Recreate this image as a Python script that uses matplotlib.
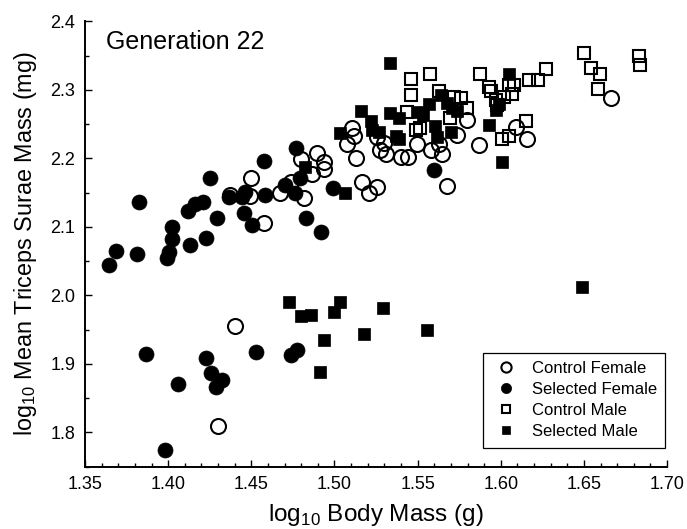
import matplotlib
matplotlib.use("Agg")
import matplotlib.pyplot as plt
from matplotlib.ticker import MultipleLocator, FormatStrFormatter

plt.rcParams['font.family'] = ['Liberation Sans', 'DejaVu Sans']
plt.rcParams['mathtext.fontset'] = 'custom'
plt.rcParams['mathtext.rm'] = 'Liberation Sans'

# ---- data ----
cf_x = [1.440, 1.430, 1.437, 1.4498, 1.4494, 1.4574, 1.467, 1.474, 1.4815, 1.480,
        1.4865, 1.4896, 1.4936, 1.4940,
        1.5107, 1.5116, 1.5077, 1.5127, 1.5257, 1.5297, 1.5273, 1.5307, 1.5398,
        1.5442, 1.5494, 1.5578, 1.5649, 1.5628, 1.5678, 1.5739, 1.5799, 1.5869,
        1.5163, 1.5253, 1.5207, 1.609, 1.616, 1.6663]
cf_y = [1.955, 1.810, 2.146, 2.171, 2.145, 2.106, 2.149, 2.165, 2.143, 2.199,
        2.177, 2.208, 2.195, 2.185,
        2.244, 2.233, 2.221, 2.200, 2.231, 2.222, 2.212, 2.207, 2.202,
        2.202, 2.221, 2.212, 2.207, 2.221, 2.160, 2.234, 2.256, 2.220,
        2.166, 2.158, 2.149, 2.246, 2.228, 2.289]

sf_x = [1.3645, 1.3687, 1.3811, 1.3827, 1.3995, 1.4005, 1.4022, 1.4026, 1.413, 1.4119,
        1.4163, 1.4209, 1.4227, 1.4249, 1.4293, 1.4364, 1.4454, 1.4444, 1.446, 1.4502,
        1.458, 1.4574, 1.4705, 1.4765, 1.479, 1.477, 1.4831, 1.4922, 1.499, 1.5598,
        1.3867, 1.406, 1.4225, 1.4257, 1.429, 1.4323, 1.4528, 1.474, 1.4775, 1.398]
sf_y = [2.044, 2.065, 2.061, 2.136, 2.055, 2.064, 2.082, 2.100, 2.073, 2.123,
        2.133, 2.137, 2.084, 2.171, 2.113, 2.144, 2.121, 2.144, 2.151, 2.103,
        2.147, 2.196, 2.161, 2.150, 2.171, 2.215, 2.113, 2.092, 2.157, 2.183,
        1.9145, 1.870, 1.909, 1.887, 1.867, 1.877, 1.918, 1.913, 1.920, 1.775]

cm_x = [1.5458, 1.5574, 1.5458, 1.5875, 1.5628, 1.5718, 1.5763, 1.5799, 1.5488, 1.5514,
        1.5437, 1.5695, 1.593, 1.594, 1.597, 1.601, 1.605, 1.615, 1.650, 1.6542,
        1.6598, 1.6586, 1.6833, 1.6837, 1.6271, 1.6221, 1.617, 1.608, 1.605, 1.607,
        1.602, 1.598]
cm_y = [2.316, 2.324, 2.293, 2.323, 2.298, 2.290, 2.288, 2.273, 2.241, 2.244,
        2.268, 2.259, 2.305, 2.298, 2.286, 2.228, 2.233, 2.255, 2.354, 2.332,
        2.323, 2.301, 2.349, 2.337, 2.330, 2.315, 2.315, 2.307, 2.307, 2.294,
        2.290, 2.278]

sm_x = [1.5337, 1.5157, 1.5036, 1.5217, 1.5227, 1.5267, 1.5333, 1.5387, 1.5373, 1.539,
        1.5498, 1.5534, 1.5568, 1.5602, 1.5618, 1.5639, 1.5678, 1.5708, 1.5699, 1.5739,
        1.593, 1.601, 1.4825, 1.5066, 1.605, 1.597, 1.599,
        1.4729, 1.480, 1.486, 1.4996, 1.4936, 1.4916, 1.5036, 1.5293, 1.5177, 1.5554,
        1.6488]
sm_y = [2.339, 2.270, 2.237, 2.255, 2.242, 2.239, 2.266, 2.259, 2.233, 2.228,
        2.268, 2.263, 2.280, 2.247, 2.231, 2.293, 2.281, 2.273, 2.239, 2.269,
        2.249, 2.195, 2.187, 2.149, 2.324, 2.271, 2.280,
        1.990, 1.970, 1.972, 1.976, 1.935, 1.888, 1.990, 1.981, 1.944, 1.950,
        2.013]

labels = ["Control Female", "Selected Female", "Control Male", "Selected Male"]

fig = plt.figure(figsize=(6.87, 5.29), dpi=100)
ax = fig.add_axes([0.1237, 0.1178, 0.8473, 0.8416])

ms_c = 10.8
ms_s = 8.6
ew = 1.5
ax.plot(cf_x, cf_y, 'o', ms=ms_c, mfc='none', mec='black', mew=ew, label=labels[0])
ax.plot(sf_x, sf_y, 'o', ms=ms_c, mfc='black', mec='black', mew=0.5, label=labels[1])
ax.plot(cm_x, cm_y, 's', ms=ms_s, mfc='none', mec='black', mew=ew, label=labels[2])
ax.plot(sm_x, sm_y, 's', ms=ms_s, mfc='black', mec='black', mew=0.5, label=labels[3])

ax.set_xlim(1.35, 1.70)
ax.set_ylim(1.75, 2.40)
ax.xaxis.set_major_locator(MultipleLocator(0.05))
ax.xaxis.set_minor_locator(MultipleLocator(0.01))
ax.yaxis.set_major_locator(MultipleLocator(0.1))
ax.yaxis.set_minor_locator(MultipleLocator(0.05))
ax.xaxis.set_major_formatter(FormatStrFormatter('%.2f'))
ax.yaxis.set_major_formatter(FormatStrFormatter('%.1f'))
ax.set_yticks([1.8, 1.9, 2.0, 2.1, 2.2, 2.3, 2.4])

for s in ['top', 'right']:
    ax.spines[s].set_visible(False)
for s in ['left', 'bottom']:
    ax.spines[s].set_linewidth(1.4)

ax.tick_params(which='major', direction='in', length=5, width=1, labelsize=13, pad=7)
ax.tick_params(which='minor', direction='in', length=3, width=1)

ax.set_xlabel(r"log$_{10}$ Body Mass (g)", fontsize=17.5, labelpad=6)
ax.set_ylabel(r"log$_{10}$ Mean Triceps Surae Mass (mg)", fontsize=16.8, labelpad=8)

ax.text(0.036, 0.954, "Generation 22", transform=ax.transAxes, fontsize=18,
        ha='left', va='center')

leg = ax.legend(loc='lower right', bbox_to_anchor=(0.997, 0.043), fontsize=12,
                frameon=True, fancybox=False, edgecolor='black', framealpha=1,
                markerscale=0.68, handlelength=1.8, handletextpad=0.66,
                labelspacing=0.36, borderpad=0.5, borderaxespad=0.0)
leg.get_frame().set_linewidth(0.9)

fig.savefig("out.png", dpi=100)
